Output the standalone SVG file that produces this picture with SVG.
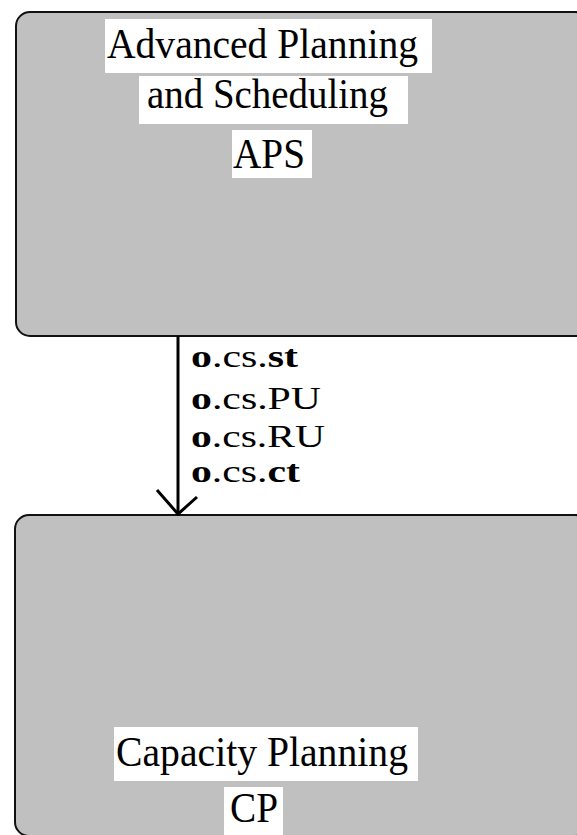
<svg xmlns="http://www.w3.org/2000/svg" width="577" height="835" viewBox="0 0 577 835">
  <style>
    .box { fill: #c0c0c0; stroke: #111; stroke-width: 2; }
    .plate { fill: #ffffff; }
    .title { font-family: "Liberation Serif", "Times New Roman", serif; font-size: 42px; fill: #000; }
    .flow { font-family: "Liberation Serif", "Times New Roman", serif; font-size: 32px; fill: #000; }
    .b { font-weight: bold; }
    .wire { stroke: #000; stroke-width: 3; fill: none; }
  </style>

  <rect width="577" height="835" fill="#ffffff"/>

  <g id="aps">
    <rect class="box" x="16" y="12" width="573" height="324" rx="14" ry="14"/>
    <rect class="plate" x="105" y="19" width="327" height="54"/>
    <text class="title" x="107" y="58" textLength="311" lengthAdjust="spacingAndGlyphs">Advanced Planning</text>
    <rect class="plate" x="139" y="76" width="269" height="48"/>
    <text class="title" x="147" y="108" textLength="241" lengthAdjust="spacingAndGlyphs">and Scheduling</text>
    <rect class="plate" x="232" y="130" width="80" height="48"/>
    <text class="title" x="233" y="168" textLength="72" lengthAdjust="spacingAndGlyphs">APS</text>
  </g>

  <g id="cp">
    <rect class="box" x="15" y="515" width="574" height="321" rx="14" ry="14"/>
    <rect class="plate" x="114" y="727" width="304" height="54"/>
    <text class="title" x="116" y="766" textLength="292" lengthAdjust="spacingAndGlyphs">Capacity Planning</text>
    <rect class="plate" x="224" y="787" width="59" height="48"/>
    <text class="title" x="230" y="822" textLength="48" lengthAdjust="spacingAndGlyphs">CP</text>
  </g>

  <g id="connectors">
    <line class="wire" x1="178" y1="336" x2="178" y2="514"/>
    <polyline class="wire" points="157,490 178,514 197,497"/>
    <text class="flow" x="191" y="367" textLength="107" lengthAdjust="spacingAndGlyphs"><tspan class="b">o</tspan>.cs.<tspan class="b">st</tspan></text>
    <text class="flow" x="191" y="409" textLength="130" lengthAdjust="spacingAndGlyphs"><tspan class="b">o</tspan>.cs.PU</text>
    <text class="flow" x="191" y="447" textLength="134" lengthAdjust="spacingAndGlyphs"><tspan class="b">o</tspan>.cs.RU</text>
    <text class="flow" x="191" y="482" textLength="109" lengthAdjust="spacingAndGlyphs"><tspan class="b">o</tspan>.cs.<tspan class="b">ct</tspan></text>
  </g>
</svg>
